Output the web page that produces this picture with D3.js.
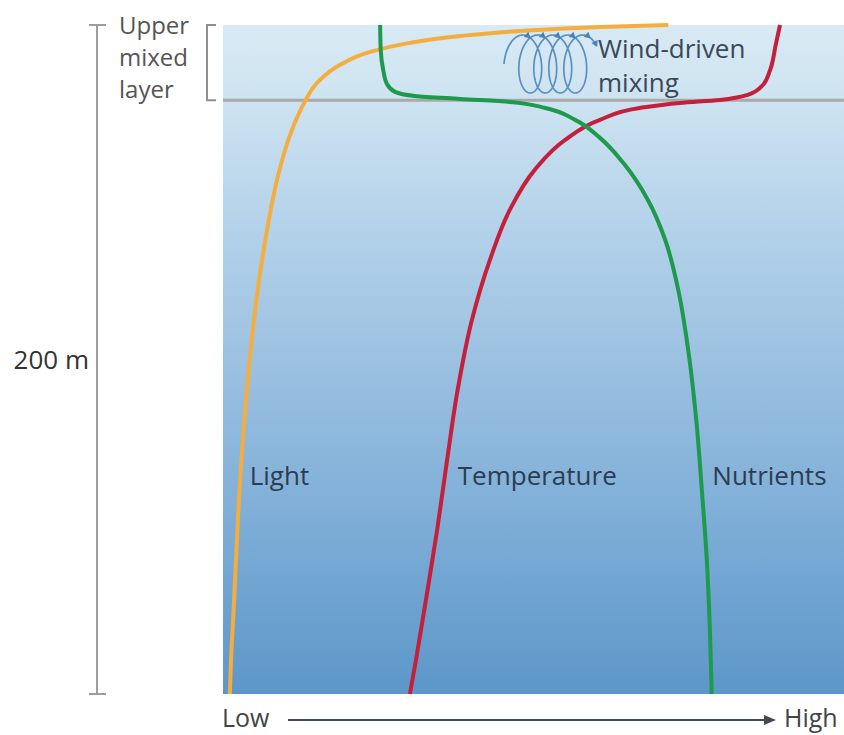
<!DOCTYPE html>
<html>
<head>
<meta charset="utf-8">
<script src="https://cdn.jsdelivr.net/npm/d3@7"></script>
<style>
  html, body { margin: 0; padding: 0; background: #fff; }
  svg { display: block; }
  text { font-family: "Open Sans", "Noto Sans", sans-serif; }
</style>
</head>
<body>
<svg id="chart" width="844" height="735"></svg>
<script>
// ---- data (value: 0 = Low, 1 = High; depth in metres, 0..400) ----
const depthDomain = [0, 400];
const mixedLayerDepth = 45;
const depthTickValue = 200;
const depthTickLabel = "200 m";
const mixedLayerLabel = ["Upper", "mixed", "layer"];
const mixingLabel = ["Wind-driven", "mixing"];
const axisLabels = ["Low", "High"];
const seriesNames = ["Light", "Temperature", "Nutrients"];

const lightDepth = [0, 1.2, 3.6, 6.6, 10.7, 16.1, 23.9, 34.0, 47.8, 65.7, 89.6, 122.4, 158.2, 200, 247.8, 295.5, 343.3, 379.1, 400];
const lightValue = [0.717, 0.607, 0.478, 0.382, 0.301, 0.237, 0.188, 0.153, 0.129, 0.108, 0.089, 0.071, 0.056, 0.043, 0.032, 0.024, 0.018, 0.013, 0.011];

const tempDepth = [0, 11.9, 26.9, 36.4, 41.8, 44.8, 46.6, 49.6, 56.7, 68.7, 86.6, 110.4, 140.3, 176.1, 217.9, 259.7, 301.5, 343.3, 379.1, 400];
const tempValue = [0.897, 0.890, 0.881, 0.868, 0.845, 0.800, 0.736, 0.671, 0.607, 0.551, 0.502, 0.462, 0.430, 0.401, 0.378, 0.361, 0.345, 0.327, 0.311, 0.301];

const nutrDepth = [0, 14.9, 26.9, 35.2, 40.0, 42.4, 44.2, 46.0, 49.6, 56.7, 67.5, 83.6, 104.5, 128.4, 158.2, 194.0, 235.8, 277.6, 319.4, 361.2, 400];
const nutrValue = [0.253, 0.254, 0.258, 0.264, 0.277, 0.309, 0.382, 0.462, 0.519, 0.567, 0.607, 0.647, 0.684, 0.712, 0.733, 0.749, 0.762, 0.771, 0.779, 0.784, 0.787];

const labelPos = [ // [value, depth] anchor (left, baseline) for each series label
  [0.043, 270], [0.378, 270], [0.788, 270]
];

// ---- layout ----
const svg = d3.select("#chart");
const plot = { left: 223, right: 844, top: 25, bottom: 694 };
const x = d3.scaleLinear().domain([0, 1]).range([plot.left, plot.right]);
const y = d3.scaleLinear().domain(depthDomain).range([plot.top, plot.bottom]);

// background gradient
const defs = svg.append("defs");
const grad = defs.append("linearGradient").attr("id", "sea")
  .attr("x1", 0).attr("y1", 0).attr("x2", 0).attr("y2", 1);
[[0, "#d8eaf4"], [0.1, "#cfe4f1"], [0.3, "#b4d2ea"], [0.5, "#9cc1e1"], [0.7, "#83b1d9"], [1, "#5c97c9"]]
  .forEach(([o, c]) => grad.append("stop").attr("offset", o).attr("stop-color", c));

svg.append("rect")
  .attr("x", plot.left).attr("y", plot.top)
  .attr("width", plot.right - plot.left).attr("height", plot.bottom - plot.top)
  .attr("fill", "url(#sea)");

// mixed layer line
svg.append("line")
  .attr("x1", plot.left).attr("x2", plot.right)
  .attr("y1", y(mixedLayerDepth)).attr("y2", y(mixedLayerDepth))
  .attr("stroke", "#a9a9a9").attr("stroke-width", 3);

// curves
const line = d3.line().x(d => x(d[0])).y(d => y(d[1])).curve(d3.curveMonotoneY);
const series = [
  { v: lightValue, d: lightDepth, color: "#f4ae3f" },
  { v: tempValue, d: tempDepth, color: "#c51f3b" },
  { v: nutrValue, d: nutrDepth, color: "#1d9a4b" }
];
series.forEach(s => {
  svg.append("path")
    .datum(s.v.map((v, i) => [v, s.d[i]]))
    .attr("d", line)
    .attr("fill", "none")
    .attr("stroke", s.color)
    .attr("stroke-width", 4)
    .attr("stroke-linecap", "butt");
});

// series labels
seriesNames.forEach((n, i) => {
  svg.append("text")
    .attr("x", x(labelPos[i][0])).attr("y", y(labelPos[i][1]) + 8)
    .attr("font-size", 26).attr("fill", "#2c3d52")
    .text(n);
});

// wind-driven mixing coil (decorative spiral)
const cx0 = 519, cy0 = 64, pitch = 15, rx = 15, ry = 29;
const coilPt = t => [cx0 + pitch * t / (2 * Math.PI) - rx * Math.cos(t), cy0 - ry * Math.sin(t)];
const coil = [];
const tEnd = 8 * Math.PI + 0.8 * Math.PI;
for (let t = 0; t <= tEnd + 1e-9; t += 0.05) coil.push(coilPt(t));
svg.append("path")
  .attr("d", d3.line()(coil))
  .attr("fill", "none").attr("stroke", "#5a8fc2").attr("stroke-width", 1.7);
const arrowAt = [];
for (let k = 0; k < 5; k++) arrowAt.push(2 * Math.PI * k + 0.65 * Math.PI);
arrowAt.push(tEnd);
arrowAt.forEach(t => {
  const [px, py] = coilPt(t);
  const dx = pitch / (2 * Math.PI) + rx * Math.sin(t);
  const dy = -ry * Math.cos(t);
  const a = Math.atan2(dy, dx) * 180 / Math.PI;
  svg.append("path")
    .attr("d", "M0,0 L-6,-3.5 L-6,3.5 Z")
    .attr("transform", `translate(${px},${py}) rotate(${a})`)
    .attr("fill", "#4a80b8");
});
mixingLabel.forEach((t, i) => {
  svg.append("text")
    .attr("x", 598).attr("y", 58 + i * 34)
    .attr("font-size", 26).attr("fill", "#3a4858")
    .text(t);
});

// depth axis
const axisG = svg.append("g").attr("stroke", "#9c9c9c").attr("stroke-width", 2);
axisG.append("line").attr("x1", 97).attr("x2", 97).attr("y1", y(0)).attr("y2", y(depthDomain[1]));
axisG.append("line").attr("x1", 89).attr("x2", 106).attr("y1", y(0)).attr("y2", y(0));
axisG.append("line").attr("x1", 89).attr("x2", 106).attr("y1", y(depthDomain[1])).attr("y2", y(depthDomain[1]));
svg.append("text")
  .attr("x", 89).attr("y", y(depthTickValue) + 9)
  .attr("text-anchor", "end").attr("font-size", 26).attr("fill", "#333")
  .text(depthTickLabel);

// mixed layer bracket
svg.append("path")
  .attr("d", `M216,${y(0)} H207 V${y(mixedLayerDepth)} H216`)
  .attr("fill", "none").attr("stroke", "#8e8e8e").attr("stroke-width", 2);
mixedLayerLabel.forEach((t, i) => {
  svg.append("text")
    .attr("x", 119).attr("y", 34 + i * 32)
    .attr("font-size", 24).attr("fill", "#555")
    .text(t);
});

// Low -> High arrow
svg.append("text").attr("x", 222).attr("y", 727).attr("font-size", 25).attr("fill", "#444").text(axisLabels[0]);
svg.append("text").attr("x", 784).attr("y", 727).attr("font-size", 25).attr("fill", "#444").text(axisLabels[1]);
svg.append("line").attr("x1", 288).attr("x2", 766).attr("y1", 720).attr("y2", 720)
  .attr("stroke", "#3f4a55").attr("stroke-width", 2);
svg.append("path").attr("d", "M776,720 L764,715 L764,725 Z").attr("fill", "#3f4a55");
</script>
</body>
</html>
